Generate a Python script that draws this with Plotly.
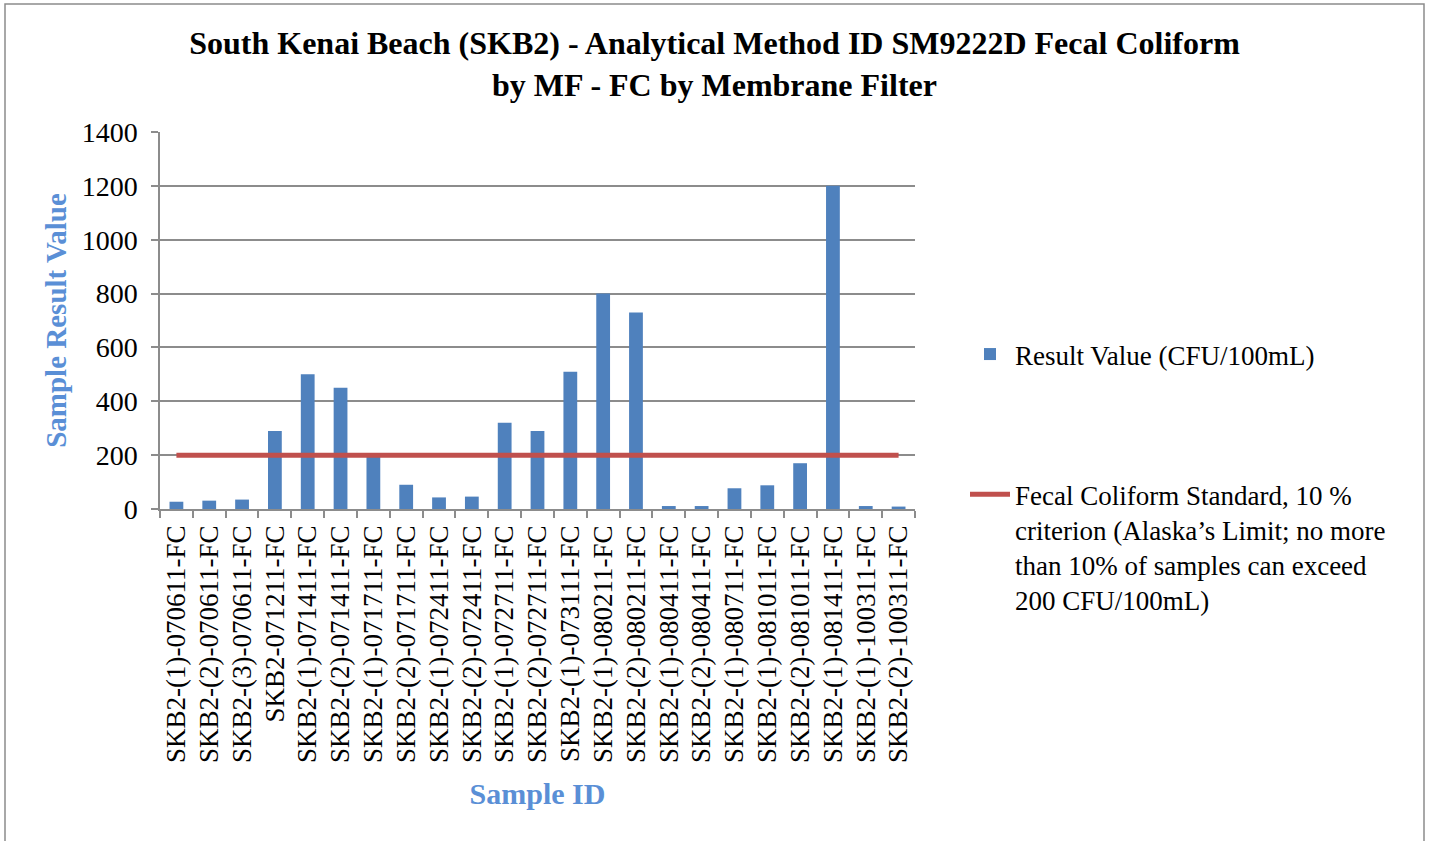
import plotly.graph_objects as go

categories = [
    "SKB2-(1)-070611-FC", "SKB2-(2)-070611-FC", "SKB2-(3)-070611-FC",
    "SKB2-071211-FC", "SKB2-(1)-071411-FC", "SKB2-(2)-071411-FC",
    "SKB2-(1)-071711-FC", "SKB2-(2)-071711-FC", "SKB2-(1)-072411-FC",
    "SKB2-(2)-072411-FC", "SKB2-(1)-072711-FC", "SKB2-(2)-072711-FC",
    "SKB2-(1)-073111-FC", "SKB2-(1)-080211-FC", "SKB2-(2)-080211-FC",
    "SKB2-(1)-080411-FC", "SKB2-(2)-080411-FC", "SKB2-(1)-080711-FC",
    "SKB2-(1)-081011-FC", "SKB2-(2)-081011-FC", "SKB2-(1)-081411-FC",
    "SKB2-(1)-100311-FC", "SKB2-(2)-100311-FC",
]
result_values = [27, 31, 35, 290, 500, 450, 195, 90, 43, 46, 320, 290,
                 510, 800, 730, 11, 11, 77, 88, 170, 1200, 11, 9]
standard_values = [200] * len(categories)
y_ticks = [0, 200, 400, 600, 800, 1000, 1200, 1400]

FONT = "Liberation Serif"
W, H = 1429, 841
L, R, T, B = 160, 915, 132, 509

fig = go.Figure()
fig.add_trace(go.Bar(
    x=categories, y=result_values, name="Result Value (CFU/100mL)",
    marker=dict(color="#4F81BD", line=dict(width=0)),
    legendgroup="a",
))
fig.add_trace(go.Scatter(
    x=categories, y=standard_values, mode="lines",
    name="Fecal Coliform Standard, 10 %<br>criterion (Alaska’s Limit; no more<br>than 10% of samples can exceed<br>200 CFU/100mL)",
    line=dict(color="#C0504D", width=5),
    legendgroup="b",
))

pw = R - L
ph = B - T
fig.add_shape(type="rect", xref="paper", yref="paper",
              x0=(5 - L) / pw, x1=(1424 - L) / pw,
              y0=(B - 880) / ph, y1=(B - 4) / ph,
              line=dict(color="#8C8C8C", width=1.5), fillcolor="rgba(0,0,0,0)",
              layer="below")

fig.update_layout(
    width=W, height=H,
    margin=dict(l=L, r=W - R, t=T, b=H - B, autoexpand=False),
    paper_bgcolor="white", plot_bgcolor="white",
    font=dict(family=FONT, size=26, color="black"),
    title=dict(
        text="<b>South Kenai Beach (SKB2) - Analytical Method ID SM9222D Fecal Coliform<br>by MF - FC by Membrane Filter</b>",
        x=714.5 / W, xanchor="center",
        y=1 - 54 / H, yanchor="middle",
        font=dict(family=FONT, size=32, color="black"),
    ),
    bargap=0.58,
    showlegend=True,
    legend=dict(
        x=(965 - L) / pw, xanchor="left", y=(B - 330) / ph, yanchor="top",
        font=dict(family=FONT, size=27, color="black"),
        tracegroupgap=102, itemwidth=40, valign="top",
        bgcolor="rgba(0,0,0,0)", traceorder="grouped",
    ),
    xaxis=dict(
        type="category", tickangle=-90, tickson="boundaries",
        ticks="outside", ticklen=7, tickcolor="#8C8C8C", tickwidth=1.5,
        ticklabelstandoff=4,
        showline=True, linecolor="#8C8C8C", linewidth=1.5,
        showgrid=False, automargin=False,
        tickfont=dict(family=FONT, size=27, color="black"),
        title=dict(text="<b>Sample ID</b>", standoff=21,
                   font=dict(family=FONT, size=30, color="#5A8FD6")),
    ),
    yaxis=dict(
        range=[0, 1400], tickvals=y_ticks, ticks="outside", ticklen=7,
        tickcolor="#8C8C8C", tickwidth=1.5, ticklabelstandoff=8,
        showline=True, linecolor="#8C8C8C", linewidth=1.5,
        showgrid=True, gridcolor="#8C8C8C", gridwidth=1.5,
        zeroline=False, automargin=False,
        tickfont=dict(family=FONT, size=28, color="black"),
        title=dict(text="<b>Sample Result Value</b>", standoff=7,
                   font=dict(family=FONT, size=29, color="#5A8FD6")),
    ),
)

fig.write_html("out.html", config={"displayModeBar": False},
               post_script="document.body.style.margin='0';")
